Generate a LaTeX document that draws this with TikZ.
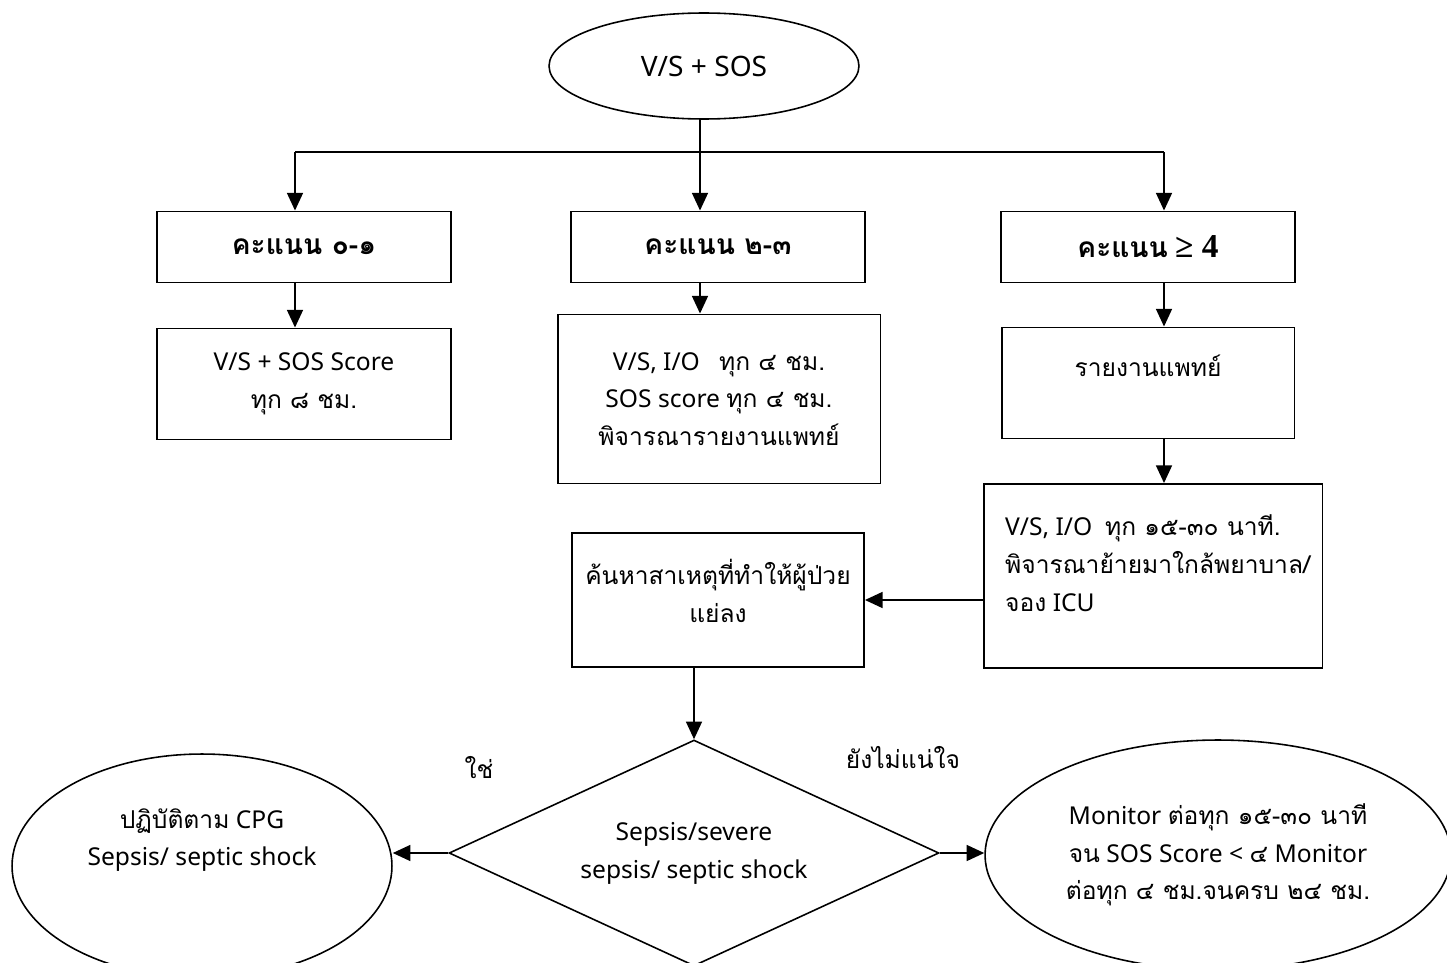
\documentclass[tikz,border=0pt]{standalone}
\usepackage{fontspec}
\setmainfont{Noto Sans}
\newfontfamily\thaifont[Script=Thai]{Loma}
\newfontfamily\timesfont{Liberation Serif}
\newcommand{\tf}[1]{{\thaifont #1}}
\usetikzlibrary{positioning, shapes, arrows.meta, calc}

\begin{document}
\begin{tikzpicture}[x=0.02cm, y=-0.02cm,
    every node/.style={font=\fontsize{14}{21.5}\selectfont},
    box/.style={draw, line width=1.1pt, rectangle, inner sep=0pt, align=center},
    score/.style={box, minimum width=5.87cm, minimum height=1.42cm, font=\fontsize{16}{20}\selectfont\bfseries},
    oval/.style={draw, line width=0.9pt, ellipse, inner sep=0pt, align=center},
    choice/.style={draw, line width=0.9pt, diamond, aspect=2.17, inner sep=0pt, align=center},
    arr/.style={line width=1.1pt, -{Triangle[length=10pt, width=9pt]}},
    link/.style={line width=1.1pt}]
      \useasboundingbox (0,0) rectangle (1447,963);
      \clip (0,0) rectangle (1447,963);

      % Start
      \node[oval, minimum width=6.2cm, minimum height=2.12cm, font=\fontsize{16}{20}\selectfont] (vs) at (704,66) {V/S + SOS};

      % Score boxes
      \node[score] (s01) at (304,247) {\tf{คะแนน ๐-๑}};
      \node[score] (s23) at (718,247) {\tf{คะแนน ๒-๓}};
      \node[score] (s4) at (1148,247) {\tf{คะแนน} {\timesfont\fontsize{19}{20}\selectfont ≥ 4}};

      % Actions
      \node[box, minimum width=5.88cm, minimum height=2.22cm] (a01) at (304,384) {V/S + SOS Score\\ \tf{ทุก ๘ ชม.}};
      \node[box, minimum width=6.46cm, minimum height=3.38cm] (a23) at (719,399) {V/S, I/O \ \ \tf{ทุก ๔ ชม.}\\ SOS score \tf{ทุก ๔ ชม.}\\ \tf{พิจารณารายงานแพทย์}};
      \node[box, minimum width=5.86cm, minimum height=2.22cm] (a4) at (1148,383) {};
      \node (a4txt) at (1148,366) {\tf{รายงานแพทย์}};
      \node[box, minimum width=6.78cm, minimum height=3.68cm] (a4b) at (1153,576) {};
      \node[align=left, anchor=west] (a4btxt) at (999,563) {V/S, I/O \ \tf{ทุก ๑๕-๓๐ นาที.}\\ \tf{พิจารณาย้ายมาใกล้พยาบาล/}\\ \tf{จอง} ICU};
      \node[box, minimum width=5.84cm, minimum height=2.68cm] (cause) at (718,600) {};
      \node[align=center] (causetxt) at (718,591) {\tf{ค้นหาสาเหตุที่ทำให้ผู้ป่วย}\\ \tf{แย่ลง}};

      % Decision
      \node[choice, minimum width=9.8cm, minimum height=4.52cm] (dec) at (694,853) {Sepsis/severe\\ sepsis/ septic shock};
      \node[oval, minimum width=7.6cm, minimum height=4.48cm] (yes) at (202,866) {};
      \node[align=center] (yestxt) at (202,840) {\tf{ปฏิบัติตาม} CPG\\ Sepsis/ septic shock};
      \node[oval, minimum width=9.32cm, minimum height=4.6cm] (mon) at (1218,855) {Monitor \tf{ต่อทุก ๑๕-๓๐ นาที}\\ \tf{จน} SOS Score < \tf{๔} Monitor\\ \tf{ต่อทุก ๔ ชม.จนครบ ๒๔ ชม.}};
      \node (yeslbl) at (479,768) {\tf{ใช่}};
      \node (unsure) at (903,758) {\tf{ยังไม่แน่ใจ}};

      % Connectors
      \coordinate (bl) at (295,152);
      \coordinate (br) at (1164,152);
      \draw[link] (bl) -- (br);
      \draw[arr] (vs.south -| 700,0) -- (700,0 |- s23.north);
      \draw[arr] (bl) -- (bl |- s01.north);
      \draw[arr] (br) -- (br |- s4.north);
      \draw[arr] (bl |- s01.south) -- (bl |- a01.north);
      \draw[arr] (700,0 |- s23.south) -- (700,0 |- a23.north);
      \draw[arr] (br |- s4.south) -- (br |- a4.north);
      \draw[arr] (br |- a4.south) -- (br |- a4b.north);
      \draw[arr] (a4b.west |- cause.east) -- (cause.east);
      \draw[arr] (cause.south -| dec.north) -- (dec.north);
      \draw[arr] (dec.west) -- (dec.west -| yes.east);
      \draw[arr] (dec.east) -- (dec.east -| mon.west);
    \end{tikzpicture}
\end{document}
